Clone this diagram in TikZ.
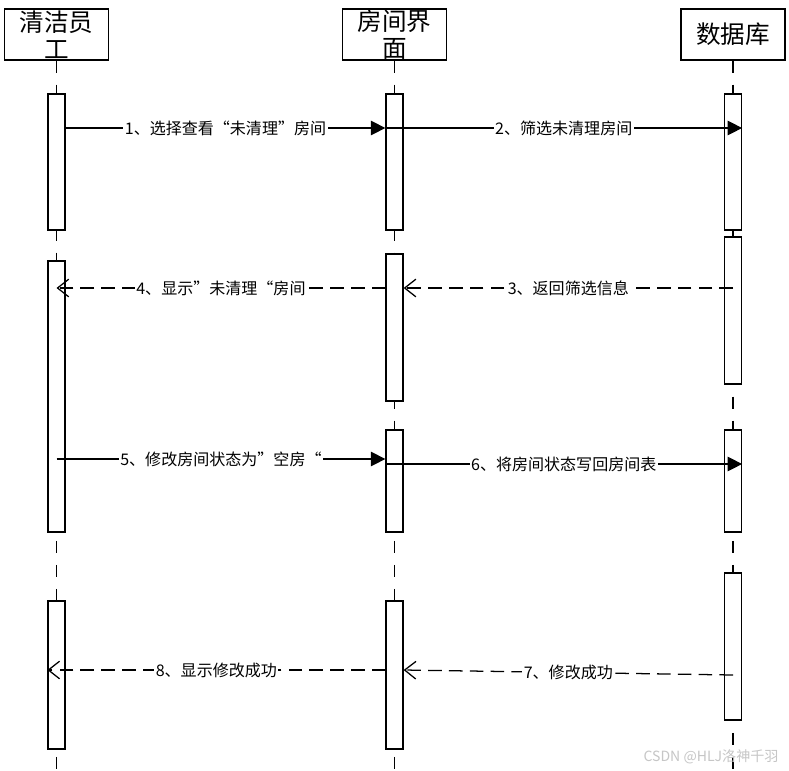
\documentclass[tikz,border=0pt]{standalone}
\usepackage{fontspec}
\setmainfont{Noto Sans CJK SC}
\usetikzlibrary{arrows.meta}

\begin{document}
\begin{tikzpicture}[x=0.025cm,y=-0.025cm,
 head/.style={draw,line width=0.9pt,minimum width=2.6cm,minimum height=1.275cm,inner sep=0pt,align=center,font=\fontsize{17.5}{19.5}\selectfont},
 act/.style={draw,line width=0.9pt,fill=white,minimum width=0.425cm,minimum height=#1,inner sep=0pt},
 life/.style={line width=0.8pt,dash pattern=on 0.3cm off 0.3cm},
 call/.style={line width=0.9pt,-{Triangle[length=0.36cm,width=0.36cm]}},
 reply/.style={line width=0.9pt,dash pattern=on 0.34cm off 0.18cm,-{Straight Barb[length=0.28cm,width=0.44cm]}},
 lbl/.style={fill=white,inner sep=1pt,font=\fontsize{11.4}{13}\selectfont}]
\fill[white] (0,0) rectangle (789,770);
\useasboundingbox (0,0) rectangle (789,770);
\node[head] (cl) at (56.5,34.5) {清洁员\\工};
\node[head] (ui) at (394.5,34.5) {房间界\\面};
\node[head] (db) at (733,34.5) {数据库};
\coordinate (bot) at (0,770);
\draw[life] (cl.south) -- (cl.south |- bot);
\draw[life] (ui.south) -- (ui.south |- bot);
\draw[life] (db.south) -- (db.south |- bot);
\node[act=3.4cm] (c1) at (56.5,162) {};
\node[act=6.775cm] (c2) at (56.5,396.5) {};
\node[act=3.7cm] (c3) at (56.5,675) {};
\node[act=3.4cm] (u1) at (394.5,162) {};
\node[act=3.675cm] (u2) at (394.5,327.5) {};
\node[act=2.55cm] (u3) at (394.5,481) {};
\node[act=3.7cm] (u4) at (394.5,675) {};
\node[act=3.4cm] (d1) at (733,162) {};
\node[act=3.675cm] (d2) at (733,310.5) {};
\node[act=2.55cm] (d3) at (733,481) {};
\node[act=3.675cm] (d4) at (733,646.5) {};
\coordinate (y1) at (0,128);
\coordinate (y3) at (0,288);
\coordinate (y5) at (0,459);
\coordinate (y6) at (0,464);
\coordinate (y7) at (0,675);
\coordinate (y8) at (0,670);
\draw[call] (c1.east |- y1) -- node[lbl] {1、选择查看“未清理”房间} (u1.west |- y1);
\draw[call] (u1.west |- y1) -- node[lbl] {2、筛选未清理房间} (d1.east |- y1);
\draw[reply] (d2.center |- y3) -- node[lbl] {3、返回筛选信息} (u2.east |- y3);
\draw[reply] (u2.west |- y3) -- node[lbl] {4、显示”未清理“房间} (c2.center |- y3);
\draw[call] (c2.center |- y5) -- node[lbl] {5、修改房间状态为”空房“} (u3.west |- y5);
\draw[call] (u3.west |- y6) -- node[lbl] {6、将房间状态写回房间表} (d3.east |- y6);
\draw[reply] (d4.center |- y7) -- node[lbl] {7、修改成功} (u4.east |- y8);
\draw[reply] (u4.west |- y8) -- node[lbl] {8、显示修改成功} (c3.west |- y8);
\node[text=gray!45,font=\fontsize{10}{12}\selectfont] (wm) at (711,757) {CSDN @HLJ洛神千羽};
\end{tikzpicture}
\end{document}
